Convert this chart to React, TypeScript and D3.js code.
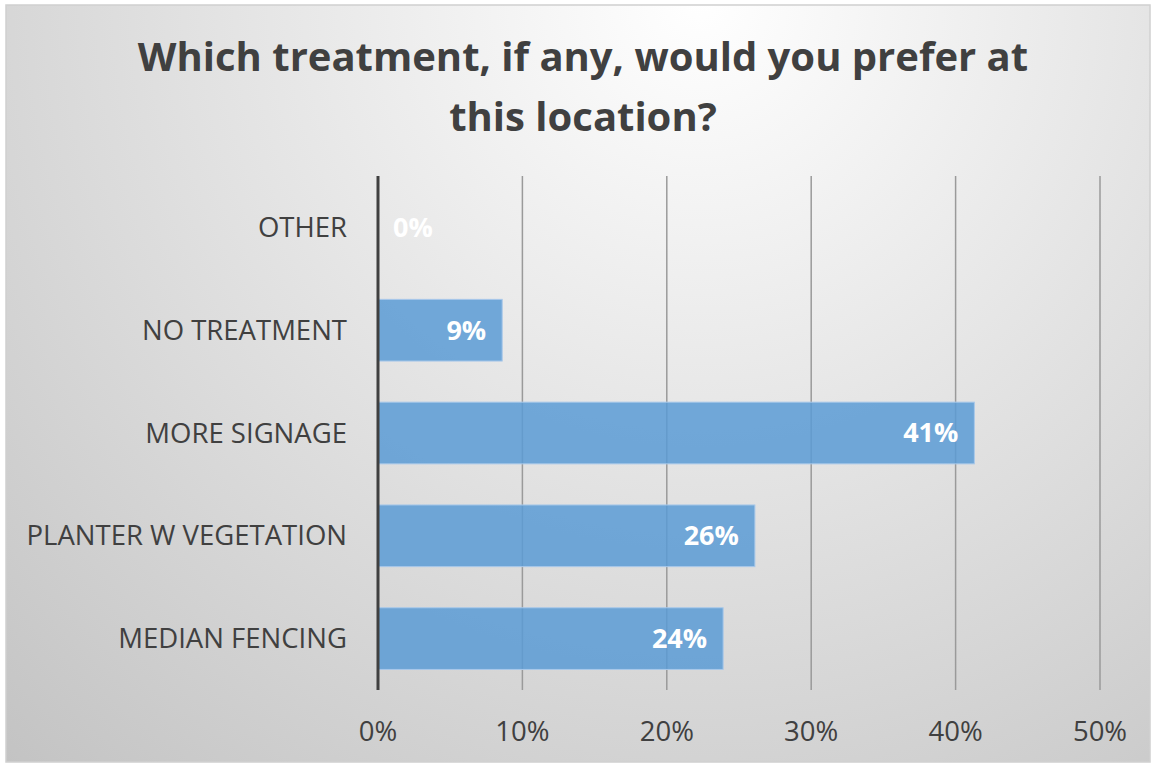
import React from "react";
import * as d3 from "d3";

const categories = ["OTHER", "NO TREATMENT", "MORE SIGNAGE", "PLANTER W VEGETATION", "MEDIAN FENCING"];
const values = [0, 8.6, 41.3, 26.1, 23.9];
const valueLabels = ["0%", "9%", "41%", "26%", "24%"];
const ticks = [0, 10, 20, 30, 40, 50];
const titleLines = ["Which treatment, if any, would you prefer at", "this location?"];

const W = 1153;
const H = 766;
const font = "'Open Sans', 'DejaVu Sans', sans-serif";

export default function App() {
  const x = d3.scaleLinear().domain([0, 50]).range([378, 1100]);
  const y = d3.scaleBand<string>().domain(categories).range([176, 690]).paddingInner(0.4).paddingOuter(0.2);
  const bw = y.bandwidth();
  return (
    <svg width={W} height={H} style={{ position: "absolute", left: 0, top: 0, display: "block" }}>
      <defs>
        <radialGradient id="bg" gradientUnits="userSpaceOnUse" cx={700} cy={0} r={1050}>
          <stop offset="0" stopColor="#ffffff" />
          <stop offset="1" stopColor="#c2c2c2" />
        </radialGradient>
      </defs>
      <rect x={0} y={0} width={W} height={H} fill="#ffffff" />
      <rect x={6} y={5} width={1144} height={757} fill="url(#bg)" stroke="#d0d0d0" strokeWidth={1.5} />
      {titleLines.map((t, i) => (
        <text key={i} x={583} y={71 + i * 60} textAnchor="middle" fontFamily={font} fontWeight="bold" fontSize={40} fill="#404040">{t}</text>
      ))}
      {ticks.slice(1).map((t) => (
        <line key={t} x1={x(t)} x2={x(t)} y1={176} y2={690} stroke="#9a9a9a" strokeWidth={1.5} />
      ))}
      {categories.map((c, i) => (
        <rect key={c} x={x(0)} y={y(c)!} width={x(values[i]) - x(0)} height={bw} fill="#5b9bd5" fillOpacity={0.85} stroke="#a8c8ea" strokeWidth={1} />
      ))}
      <line x1={x(0)} x2={x(0)} y1={176} y2={690} stroke="#404040" strokeWidth={3} />
      {categories.map((c, i) => (
        <text key={c} x={347} y={y(c)! + bw / 2} dy="0.35em" textAnchor="end" fontFamily={font} fontSize={27.5} fill="#404040">{c}</text>
      ))}
      {categories.map((c, i) => {
        const zero = values[i] === 0;
        return (
          <text key={c} x={zero ? x(0) + 15 : x(values[i]) - 16} y={y(c)! + bw / 2} dy="0.35em" textAnchor={zero ? "start" : "end"} fontFamily={font} fontWeight="bold" fontSize={27} fill="#ffffff">{valueLabels[i]}</text>
        );
      })}
      {ticks.map((t) => (
        <text key={t} x={x(t)} y={731} dy="0.35em" textAnchor="middle" fontFamily={font} fontSize={27.5} fill="#404040">{t + "%"}</text>
      ))}
    </svg>
  );
}
